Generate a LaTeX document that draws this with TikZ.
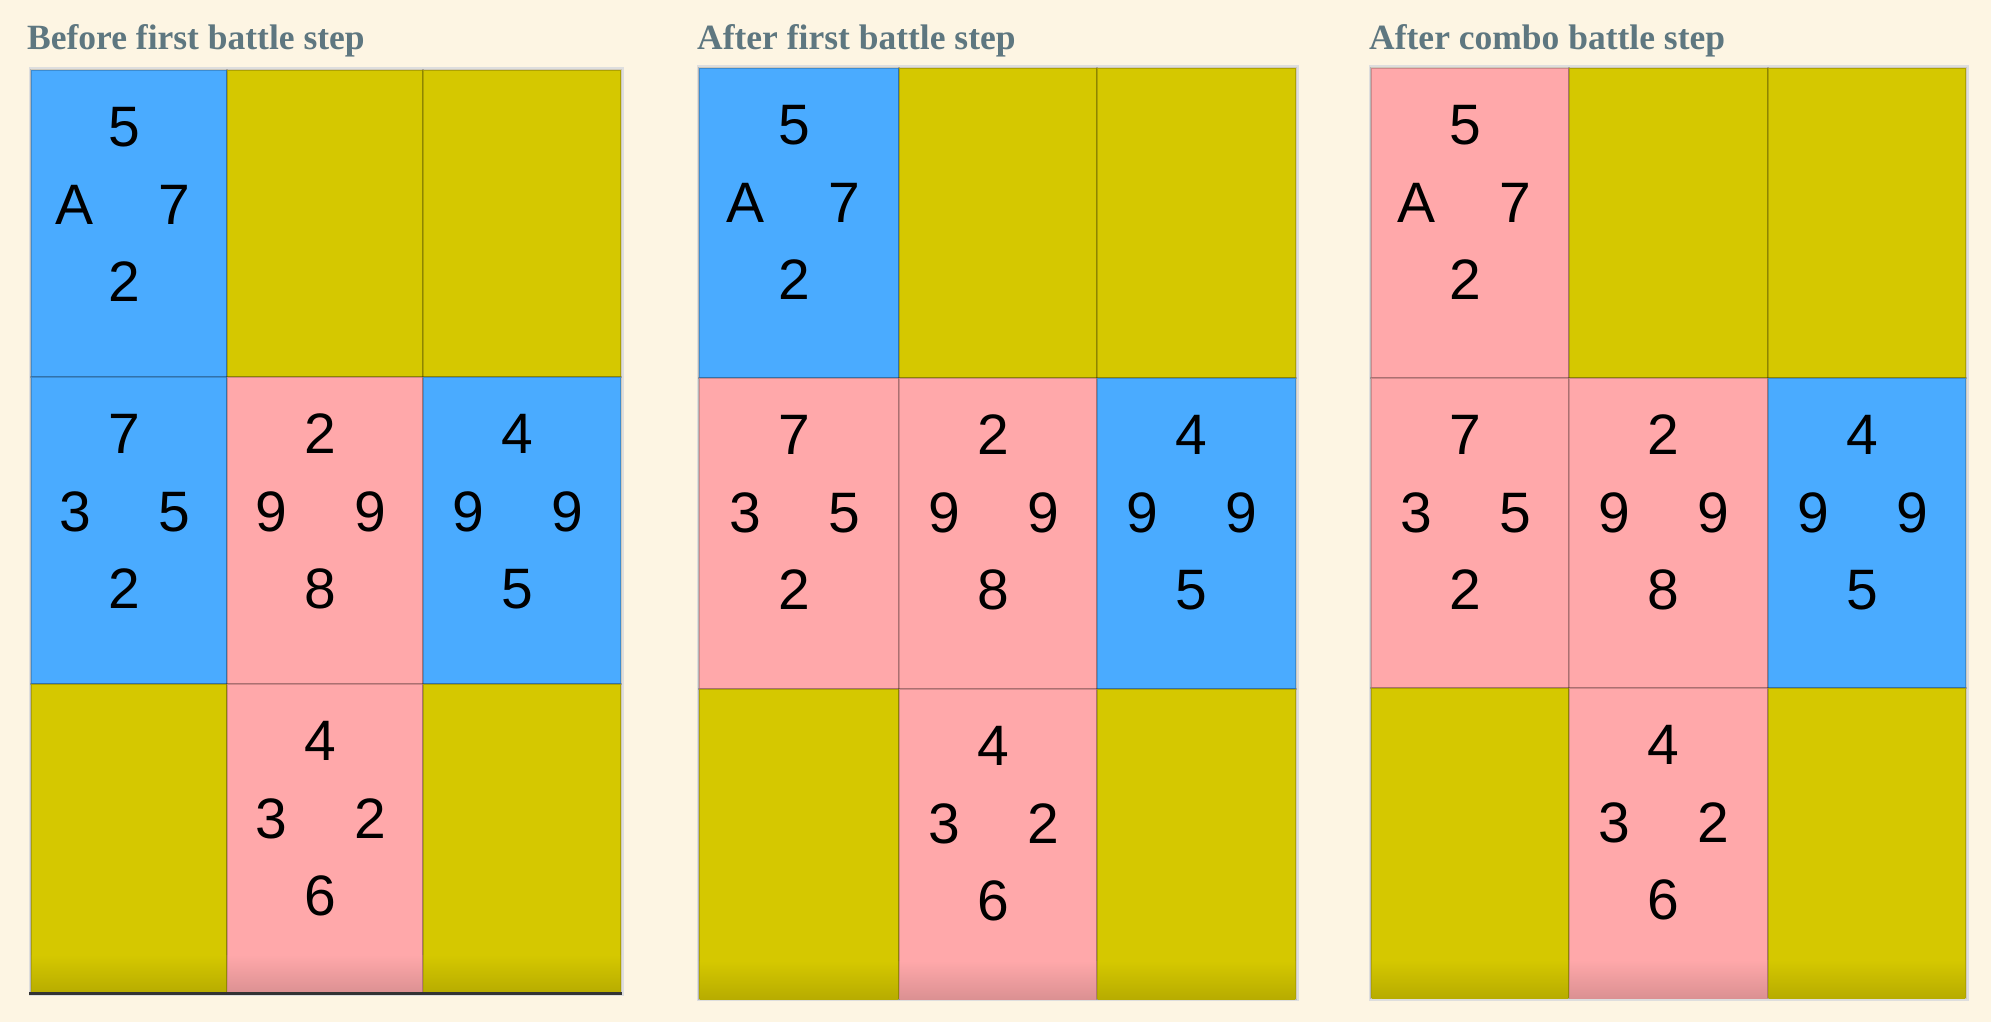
\documentclass[tikz,border=0pt]{standalone}
\usepackage{fontspec}
\setmainfont{Liberation Sans}
\newfontfamily\titlefont{Liberation Serif}
\usetikzlibrary{calc}
\definecolor{bgc}{HTML}{FDF5E3}
\definecolor{cblue}{HTML}{4AABFF}
\definecolor{cyel}{HTML}{D5C800}
\definecolor{cpink}{HTML}{FFA8AA}
\definecolor{ctitle}{HTML}{5E7780}
\tikzset{
  cellst/.style={rectangle, draw=black, draw opacity=0.18, line width=1.5pt, inner sep=0pt, outer sep=0pt},
  num/.style={inner sep=0pt, font=\fontsize{57}{57}\selectfont, text=black},
  ttl/.style={anchor=base west, inner sep=0pt, text=ctitle, font=\titlefont\bfseries\fontsize{35.5}{35.5}\selectfont},
  frame/.style={draw=black!13, line width=2pt}
}
\newcommand\cellat[6]{%
  \node[cellst, fill=#6, minimum width={(#4-#2)*1pt}, minimum height={(#5-#3)*1pt}] (#1) at ({(#2+#4)/2},{(#3+#5)/2}) {};}
\newcommand\shadeat[5]{%
  \fill[top color=#5, bottom color=#5!86!black] ({#1+0.8},{#4-38}) rectangle ({#3-0.8},#4);}
\newcommand\nums[5]{%
  \node[num] (#1t) at ($(#1.north)+(-5,57)$) {#2};
  \node[num] (#1l) at ($(#1.north)+(-54,135)$) {#3};
  \node[num] (#1r) at ($(#1.north)+(45,135)$) {#4};
  \node[num] (#1b) at ($(#1.north)+(-5,212)$) {#5};}
\begin{document}
\begin{tikzpicture}[x=1pt,y=-1pt]
\useasboundingbox (0,0) rectangle (1991,1022);
\fill[bgc] (0,0) rectangle (1991,1022);

% titles
\node[ttl] (t1) at (27,50) {Before first battle step};
\node[ttl] (t2) at (697,50) {After first battle step};
\node[ttl] (t3) at (1369,50) {After combo battle step};

% ---------- panel 1 ----------
\draw[frame] (29.5,68.5) rectangle (622.5,994.5);
\cellat{pa11}{31}{70}{227}{377}{cblue}
\cellat{pa12}{227}{70}{423}{377}{cyel}
\cellat{pa13}{423}{70}{621}{377}{cyel}
\cellat{pa21}{31}{377}{227}{684}{cblue}
\cellat{pa22}{227}{377}{423}{684}{cpink}
\cellat{pa23}{423}{377}{621}{684}{cblue}
\cellat{pa31}{31}{684}{227}{993}{cyel}
\cellat{pa32}{227}{684}{423}{993}{cpink}
\cellat{pa33}{423}{684}{621}{993}{cyel}
\shadeat{31}{684}{227}{993}{cyel}
\shadeat{227}{684}{423}{993}{cpink}
\shadeat{423}{684}{621}{993}{cyel}
\coordinate (pab1) at (29,993);
\coordinate (pab2) at (622,993);
\draw[line width=3pt, black!80] (pab1) -- (pab2);
\nums{pa11}{5}{A}{7}{2}
\nums{pa21}{7}{3}{5}{2}
\nums{pa22}{2}{9}{9}{8}
\nums{pa23}{4}{9}{9}{5}
\nums{pa32}{4}{3}{2}{6}

% ---------- panel 2 ----------
\draw[frame] (697.5,66.5) rectangle (1297.5,1000);
\cellat{pb11}{699}{68}{899}{378}{cblue}
\cellat{pb12}{899}{68}{1097}{378}{cyel}
\cellat{pb13}{1097}{68}{1296}{378}{cyel}
\cellat{pb21}{699}{378}{899}{689}{cpink}
\cellat{pb22}{899}{378}{1097}{689}{cpink}
\cellat{pb23}{1097}{378}{1296}{689}{cblue}
\cellat{pb31}{699}{689}{899}{999}{cyel}
\cellat{pb32}{899}{689}{1097}{999}{cpink}
\cellat{pb33}{1097}{689}{1296}{999}{cyel}
\shadeat{699}{689}{899}{999}{cyel}
\shadeat{899}{689}{1097}{999}{cpink}
\shadeat{1097}{689}{1296}{999}{cyel}
\nums{pb11}{5}{A}{7}{2}
\nums{pb21}{7}{3}{5}{2}
\nums{pb22}{2}{9}{9}{8}
\nums{pb23}{4}{9}{9}{5}
\nums{pb32}{4}{3}{2}{6}

% ---------- panel 3 ----------
\draw[frame] (1369.5,66.5) rectangle (1967.5,999.5);
\cellat{pc11}{1371}{68}{1569}{378}{cpink}
\cellat{pc12}{1569}{68}{1768}{378}{cyel}
\cellat{pc13}{1768}{68}{1966}{378}{cyel}
\cellat{pc21}{1371}{378}{1569}{688}{cpink}
\cellat{pc22}{1569}{378}{1768}{688}{cpink}
\cellat{pc23}{1768}{378}{1966}{688}{cblue}
\cellat{pc31}{1371}{688}{1569}{998}{cyel}
\cellat{pc32}{1569}{688}{1768}{998}{cpink}
\cellat{pc33}{1768}{688}{1966}{998}{cyel}
\shadeat{1371}{688}{1569}{998}{cyel}
\shadeat{1569}{688}{1768}{998}{cpink}
\shadeat{1768}{688}{1966}{998}{cyel}
\nums{pc11}{5}{A}{7}{2}
\nums{pc21}{7}{3}{5}{2}
\nums{pc22}{2}{9}{9}{8}
\nums{pc23}{4}{9}{9}{5}
\nums{pc32}{4}{3}{2}{6}
\end{tikzpicture}
\end{document}
